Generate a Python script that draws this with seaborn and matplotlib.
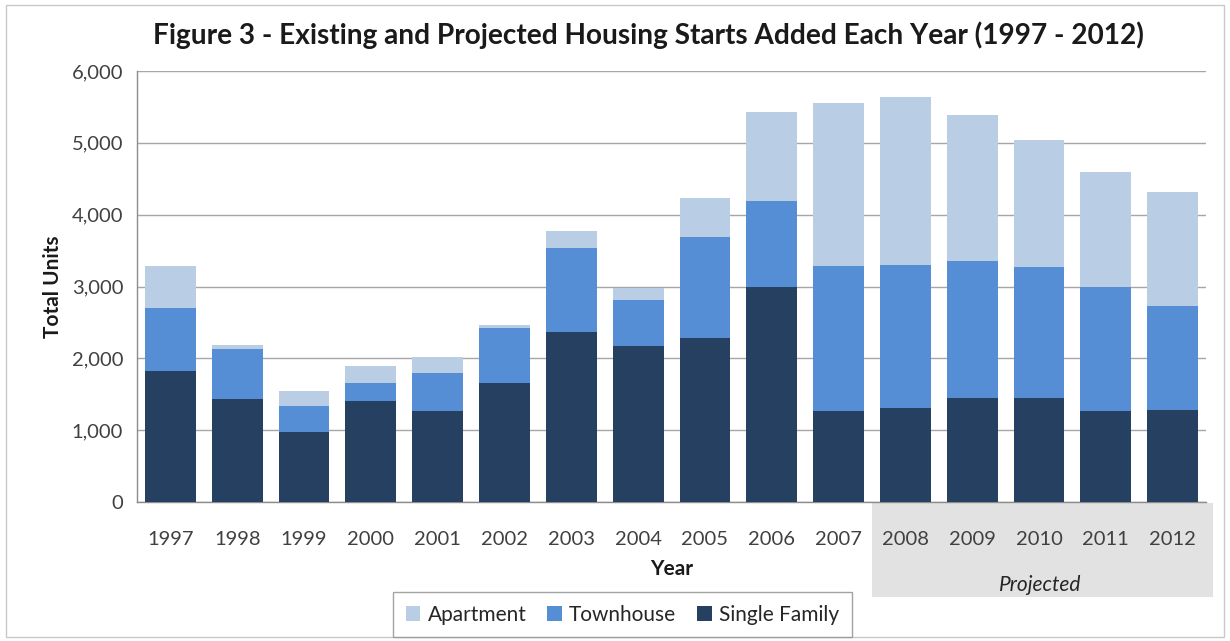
import matplotlib
matplotlib.use("Agg")
import matplotlib.pyplot as plt
import matplotlib.transforms as mtransforms
from matplotlib.patches import Rectangle, Patch
import numpy as np
import pandas as pd
import seaborn as sns

# Housing starts by year and dwelling type (units)
years = ["1997", "1998", "1999", "2000", "2001", "2002", "2003", "2004",
         "2005", "2006", "2007", "2008", "2009", "2010", "2011", "2012"]
single_family = [1830, 1430, 980, 1400, 1270, 1660, 2370, 2170,
                 2290, 2990, 1270, 1310, 1450, 1450, 1270, 1280]
townhouse = [870, 695, 355, 260, 530, 765, 1165, 640,
             1400, 1205, 2020, 1990, 1905, 1825, 1730, 1450]
apartment = [590, 60, 205, 235, 215, 35, 240, 170,
             545, 1230, 2265, 2345, 2030, 1770, 1595, 1580]
first_projected_year = "2008"

series_names = ["Apartment", "Townhouse", "Single Family"]
colors = {"Apartment": "#b9cde5", "Townhouse": "#558ed5", "Single Family": "#254061"}

sf = np.array(single_family)
th = np.array(townhouse)
ap = np.array(apartment)
df = pd.DataFrame({
    "Year": years,
    "sf_top": sf,
    "th_top": sf + th,
    "ap_top": sf + th + ap,
})

sns.set_theme(style="white")
plt.rcParams["font.family"] = ["Lato", "DejaVu Sans"]

fig = plt.figure(figsize=(12.3, 6.41), dpi=100)

# thin frame around the whole figure
fig.patches.append(Rectangle((0.005, 0.006), 0.99, 0.986, transform=fig.transFigure,
                             fill=False, edgecolor="#c8c8c8", linewidth=1.0, zorder=0))

ax = fig.add_axes([0.1114, 0.2168, 0.8691, 0.6724])
ax.set_zorder(2)
ax.patch.set_alpha(0)

# stacked bars drawn as overlapping cumulative totals
for col, name in [("ap_top", "Apartment"), ("th_top", "Townhouse"), ("sf_top", "Single Family")]:
    sns.barplot(data=df, x="Year", y=col, color=colors[name], width=0.76,
                saturation=1, linewidth=0, edgecolor="none", ax=ax, zorder=3)

ax.set_ylim(0, 6000)
ax.set_xlim(-0.5, len(years) - 0.5)
ax.set_yticks(np.arange(0, 6001, 1000))
ax.set_yticklabels([f"{v:,}" for v in range(0, 6001, 1000)])
ax.yaxis.grid(True, color="#a6a6a6", linewidth=1.0, zorder=0)
ax.set_axisbelow(True)

for side in ["top", "right"]:
    ax.spines[side].set_visible(False)
for side in ["left", "bottom"]:
    ax.spines[side].set_color("#8c8c8c")
    ax.spines[side].set_linewidth(1.0)

# category tick marks sit between bars
ax.set_xticks(np.arange(len(years)))
ax.set_xticklabels(years)
ax.set_xticks(np.arange(-0.5, len(years)), minor=True)
ax.tick_params(axis="x", which="major", length=0, labelsize=14.5, colors="#404040", pad=21)
ax.tick_params(axis="x", which="minor", length=8, color="#8c8c8c", width=1, direction="out")
ax.tick_params(axis="y", length=6, color="#8c8c8c", width=1, direction="out",
               labelsize=14.5, labelcolor="#404040", pad=4)

ax.set_xlabel("Year", fontsize=15, fontweight="bold", color="#1a1a1a", labelpad=8)
ax.set_ylabel("Total Units", fontsize=15, fontweight="bold", color="#1a1a1a", labelpad=6)

fig.suptitle("Figure 3 - Existing and Projected Housing Starts Added Each Year (1997 - 2012)",
             x=0.527, y=0.967, fontsize=20.2, fontweight="bold", color="#1a1a1a")

# shaded band under the projected years
start = years.index(first_projected_year) - 0.5
trans = mtransforms.blended_transform_factory(ax.transData, fig.transFigure)
band = Rectangle((start, 0.0686), len(years) - 0.5 - start + 0.1, 0.1466,
                 transform=trans, facecolor="#e2e2e2", edgecolor="none",
                 clip_on=False, zorder=0)
fig.patches.append(band)
fig.text(0.846, 0.088, "Projected", ha="center", va="center",
         fontsize=15, fontstyle="italic", color="#262626")

handles = [Patch(facecolor=colors[n], edgecolor="none", label=n) for n in series_names]
leg = fig.legend(handles=handles, loc="center", bbox_to_anchor=(0.506, 0.041),
                 ncol=3, fontsize=15, frameon=True, fancybox=False,
                 handlelength=0.7, handleheight=0.7, handletextpad=0.35,
                 columnspacing=1.0, borderpad=0.6)
leg.get_frame().set_edgecolor("#8c8c8c")
leg.get_frame().set_linewidth(1.0)
for t in leg.get_texts():
    t.set_color("#262626")

fig.savefig("out.png", dpi=100)
